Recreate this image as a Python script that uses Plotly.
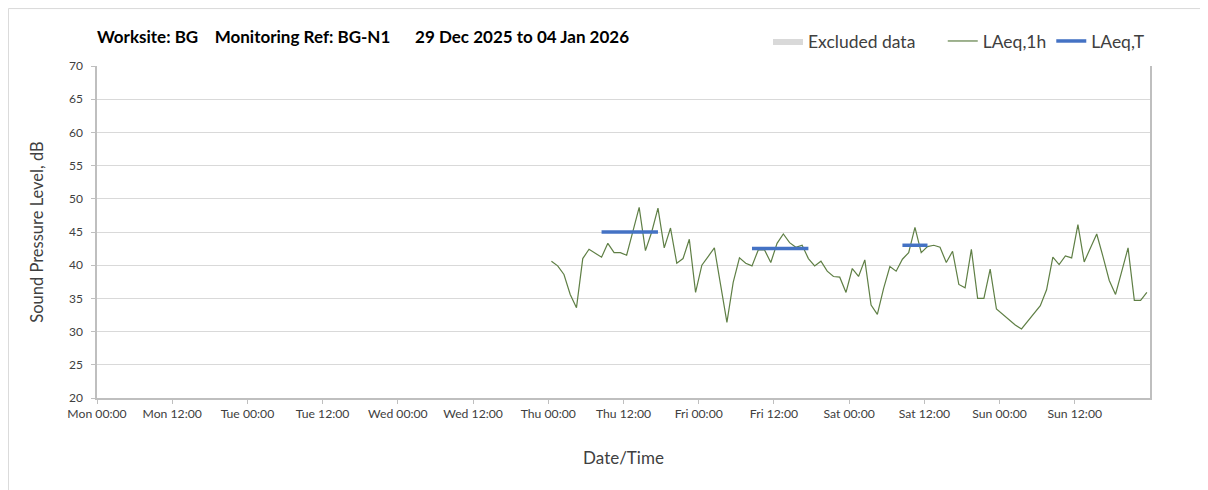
import pandas as pd
import plotly.graph_objects as go

# hourly LAeq,1h values, Thu 01 Jan 2026 00:00 onwards (plotted at mid-hour)
laeq_1h = [
    40.6, 39.9, 38.6, 35.6, 33.6, 41.0, 42.4, 41.8, 41.2, 43.3, 41.9, 41.9,
    41.5, 45.1, 48.7, 42.2, 45.0, 48.6, 42.6, 45.6, 40.3, 41.0, 43.9, 35.9,
    40.0, 41.3, 42.6, 37.0, 31.4, 37.4, 41.1, 40.3, 39.9, 42.3, 42.3, 40.4,
    43.3, 44.7, 43.4, 42.7, 43.0, 41.0, 39.9, 40.6, 39.1, 38.3, 38.2, 35.9,
    39.5, 38.3, 40.8, 34.0, 32.6, 36.5, 39.8, 39.1, 40.9, 41.9, 45.7, 41.9,
    42.8, 43.0, 42.7, 40.4, 42.1, 37.1, 36.6, 42.4, 35.0, 35.0, 39.4, 33.4,
    32.6, 31.7, 31.0, 30.4, 31.6, 32.7, 33.9, 36.3, 41.2, 40.1, 41.4, 41.1,
    46.1, 40.5, 42.6, 44.7, 41.3, 37.7, 35.6, 39.1, 42.6, 34.7, 34.7, 35.9,
]
hours = pd.date_range("2026-01-01 00:30", periods=len(laeq_1h), freq="h")

# LAeq,T over the working-hours periods
period_start = ["2026-01-01 08:30", "2026-01-02 08:30", "2026-01-03 08:30"]
period_end = ["2026-01-01 17:30", "2026-01-02 17:30", "2026-01-03 12:30"]
laeq_t = [45.0, 42.5, 43.0]

x_range = ["2025-12-29 00:00", "2026-01-05 00:00"]
# labelled ticks every 12 h, last one (Mon 00:00) not labelled
tick_times = pd.date_range("2025-12-29 00:00", "2026-01-04 12:00", freq="12h")
title = "Worksite: BG&nbsp;&nbsp;&nbsp;&nbsp;Monitoring Ref: BG-N1&nbsp;&nbsp;&nbsp;&nbsp;&nbsp;&nbsp;29 Dec 2025 to 04 Jan 2026"

FONT = "Lato"
GRID = "#d9d9d9"
AXIS = "#bfbfbf"
TEXT = "#404040"

tx, ty = [], []
for s, e, v in zip(period_start, period_end, laeq_t):
    tx += [s, e, None]
    ty += [v, v, None]

fig = go.Figure()

# legend-only entry for excluded periods (none in this week)
fig.add_trace(go.Scatter(
    x=[None], y=[None], name="Excluded data&nbsp;&nbsp;&nbsp;&nbsp;&nbsp;", mode="lines",
    fill="toself", fillcolor="#d9d9d9", line=dict(width=0, color="#d9d9d9"),
))
fig.add_trace(go.Scatter(
    x=hours, y=laeq_1h, name="LAeq,1h", mode="lines",
    line=dict(color="#5f7f45", width=1.2),
))
fig.add_trace(go.Scatter(
    x=tx, y=ty, name="LAeq,T", mode="lines",
    line=dict(color="#4472c4", width=3.5),
))

fig.update_layout(
    width=1200, height=482,
    margin=dict(l=89, r=58, t=58, b=92),
    paper_bgcolor="white", plot_bgcolor="white",
    font=dict(family=FONT, color=TEXT),
    title=dict(text=title, x=0, xref="paper", xanchor="left",
               y=1 - 29 / 482, yanchor="middle",
               font=dict(family=FONT, size=17, color="black", weight="bold")),
    legend=dict(orientation="h", x=1.0, xanchor="right", y=1.075, yanchor="middle",
                font=dict(size=17.5, color=TEXT), bgcolor="rgba(0,0,0,0)"),
    showlegend=True,
    xaxis=dict(
        type="date", range=x_range, tick0=x_range[0], dtick=86400000,
        showgrid=True, gridcolor=GRID, showticklabels=False, ticks="",
        showline=False, zeroline=False,
    ),
    xaxis2=dict(
        type="date", overlaying="x", anchor="y", side="bottom",
        range=x_range, tickmode="array", tickvals=tick_times, tickformat="%a %H:%M",
        showgrid=False, ticks="outside", ticklen=4, tickcolor=AXIS,
        showline=True, linecolor=AXIS, linewidth=1.5,
        tickfont=dict(size=12.2, color=TEXT),
        title=dict(text="Date/Time", font=dict(size=17, color=TEXT), standoff=32),
    ),
    yaxis=dict(
        range=[20, 70], dtick=5, showgrid=True, gridcolor=GRID,
        ticks="outside", ticklen=4, tickcolor=AXIS,
        showline=True, linecolor=AXIS, linewidth=1.5, mirror=True,
        zeroline=False, tickfont=dict(size=12, color=TEXT),
        ticklabelstandoff=6,
        title=dict(text="Sound Pressure Level, dB", font=dict(size=16.5, color=TEXT), standoff=21),
    ),
)

# light frame around the chart
fig.add_shape(type="rect", xref="paper", yref="paper",
              x0=-0.0841, x1=1.1, y0=-0.35, y1=1.173,
              line=dict(color=GRID, width=1), layer="below")

# put the traces on the labelled axis
for tr in fig.data:
    tr.xaxis = "x2"

fig.write_html("out.html")
